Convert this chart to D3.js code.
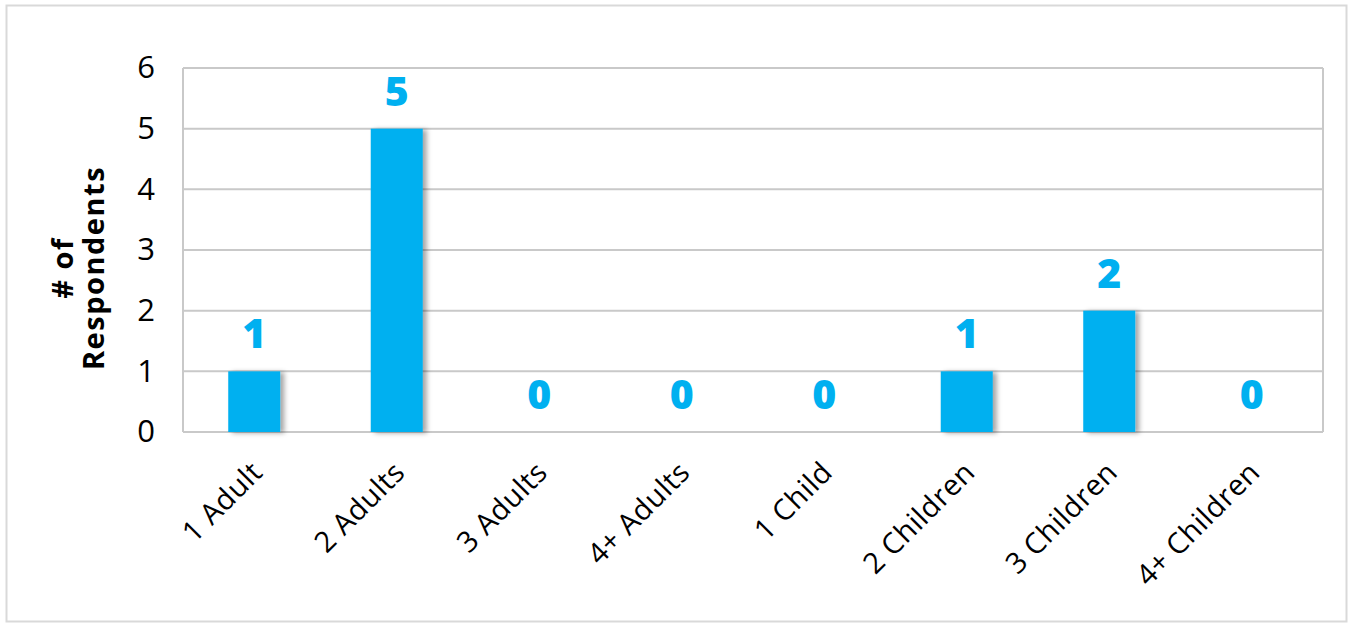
<!DOCTYPE html>
<html>
<head>
<meta charset="utf-8">
<script src="https://cdn.jsdelivr.net/npm/d3@7"></script>
<style>
  html, body { margin: 0; padding: 0; background: #fff; }
  svg { display: block; }
</style>
</head>
<body>
<svg id="chart" width="1353" height="624"></svg>
<script>
// Household composition of respondents
const categories = ["1 Adult", "2 Adults", "3 Adults", "4+ Adults", "1 Child", "2 Children", "3 Children", "4+ Children"];
const respondents = [1, 5, 0, 0, 0, 1, 2, 0];
const yTicks = [0, 1, 2, 3, 4, 5, 6];

const margin = { top: 68, right: 30, bottom: 192, left: 183 };
const font = "'Open Sans', 'DejaVu Sans', sans-serif";
const barColor = "#00B0F0";

const svg = d3.select("#chart");

// Outer chart frame
svg.append("rect")
  .attr("x", 6.5).attr("y", 5.5)
  .attr("width", 1340).attr("height", 616)
  .attr("fill", "#fff").attr("stroke", "#d9d9d9").attr("stroke-width", 2);

const x = d3.scaleBand()
  .domain(categories)
  .range([margin.left, 1323])
  .paddingInner(0.635)
  .paddingOuter(0.3175);

const y = d3.scaleLinear()
  .domain([0, 6])
  .range([432, margin.top]);

// Soft drop shadow for bars
const defs = svg.append("defs");
const f = defs.append("filter").attr("id", "shadow")
  .attr("x", "-20%").attr("y", "-10%").attr("width", "160%").attr("height", "130%");
f.append("feDropShadow").attr("dx", 4).attr("dy", 1).attr("stdDeviation", 2.5)
  .attr("flood-color", "#000").attr("flood-opacity", 0.35);

// Gridlines
svg.append("g")
  .selectAll("line")
  .data(yTicks)
  .join("line")
  .attr("x1", margin.left).attr("x2", 1323)
  .attr("y1", d => y(d)).attr("y2", d => y(d))
  .attr("stroke", "#c9c9c9").attr("stroke-width", 2);

// Plot frame sides
svg.append("line").attr("x1", margin.left).attr("x2", margin.left)
  .attr("y1", y(6)).attr("y2", y(0)).attr("stroke", "#c9c9c9").attr("stroke-width", 2);
svg.append("line").attr("x1", 1323).attr("x2", 1323)
  .attr("y1", y(6)).attr("y2", y(0)).attr("stroke", "#c9c9c9").attr("stroke-width", 2);

// Y axis tick labels
const yAxis = d3.axisLeft(y).tickValues(yTicks).tickFormat(d3.format("d")).tickSize(0).tickPadding(28);
const gy = svg.append("g").attr("transform", `translate(${margin.left},0)`).call(yAxis);
gy.select(".domain").remove();
gy.selectAll("text")
  .attr("font-family", font).attr("font-size", 31).attr("fill", "#000");

// Bars
svg.append("g")
  .selectAll("rect")
  .data(categories)
  .join("rect")
  .attr("x", (d) => x(d))
  .attr("width", x.bandwidth())
  .attr("y", (d, i) => y(respondents[i]))
  .attr("height", (d, i) => y(0) - y(respondents[i]))
  .attr("fill", barColor)
  .attr("filter", "url(#shadow)");

// Value labels
svg.append("g")
  .selectAll("text")
  .data(categories)
  .join("text")
  .attr("x", d => x(d) + x.bandwidth() / 2)
  .attr("y", (d, i) => y(respondents[i]) - 23)
  .attr("text-anchor", "middle")
  .attr("font-family", font).attr("font-weight", 800).attr("font-size", 41)
  .attr("fill", barColor)
  .text((d, i) => respondents[i]);

// X axis category labels, rotated
const xAxis = d3.axisBottom(x).tickSize(0).tickPadding(0);
const gx = svg.append("g").attr("transform", `translate(0,${y(0)})`).call(xAxis);
gx.select(".domain").remove();
gx.selectAll("text")
  .attr("font-family", font).attr("font-size", 29).attr("fill", "#000")
  .attr("text-anchor", "end")
  .attr("dy", null)
  .attr("letter-spacing", 0.5)
  .attr("transform", "translate(10,42) rotate(-45)");

// Y axis title
const title = svg.append("text")
  .attr("transform", "translate(0,268) rotate(-90)")
  .attr("text-anchor", "middle")
  .attr("font-family", font).attr("font-weight", 700).attr("font-size", 29)
  .attr("letter-spacing", 1.5)
  .attr("fill", "#000");
title.append("tspan").attr("x", 0).attr("y", 73).text("# of");
title.append("tspan").attr("x", 0).attr("y", 104).text("Respondents");
</script>
</body>
</html>
